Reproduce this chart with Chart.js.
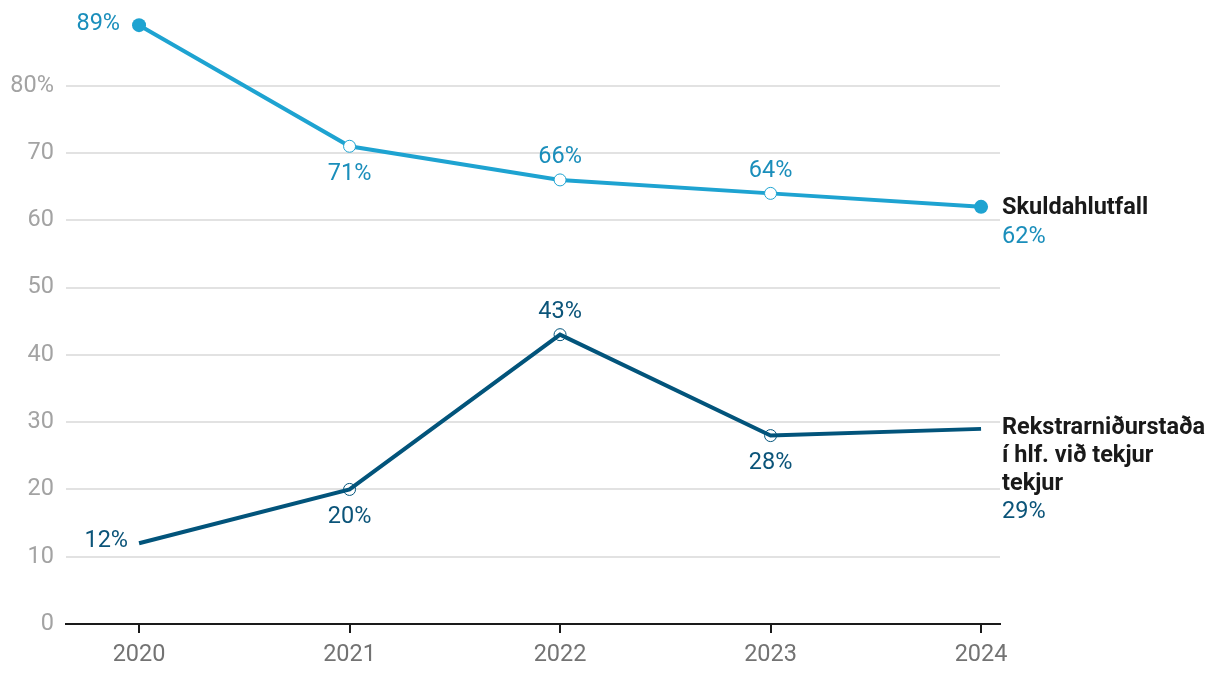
<!DOCTYPE html>
<html>
<head>
<meta charset="utf-8">
<script src="https://cdn.jsdelivr.net/npm/chart.js@4"></script>
<style>
html,body{margin:0;padding:0;background:#fff;}
#wrap{width:1220px;height:684px;position:relative;}
</style>
</head>
<body>
<div id="wrap"><canvas id="c" width="1220" height="684"></canvas></div>
<script>
const years = [2020, 2021, 2022, 2023, 2024];
const skuldahlutfall = [89, 71, 66, 64, 62];
const rekstrar = [12, 20, 43, 28, 29];
const yTicks = [0, 10, 20, 30, 40, 50, 60, 70, 80];
const seriesNames = ["Skuldahlutfall", ["Rekstrarniðurstaða", "í hlf. við tekjur", "tekjur"]];

const LIGHT = '#1ea3d1';
const LIGHT_TXT = '#1a8ebb';
const DARK = '#02547b';
const DARK_TXT = '#0b5479';
const FONT = 'Roboto, "Noto Sans", sans-serif';

// label placement: [dx, dy, align]
const lightPos = [[-19, -1, 'right'], [0, 28, 'center'], [0, -23, 'center'], [0, -22, 'center'], [21, 30, 'left']];
const darkPos  = [[-11, -2, 'right'], [0, 28, 'center'], [0, -23, 'center'], [0, 28, 'center'], [21, 83, 'left']];

const labelPlugin = {
  id: 'labels',
  afterDatasetsDraw(chart) {
    const ctx = chart.ctx;
    ctx.save();
    ctx.textBaseline = 'middle';
    const sets = [[0, lightPos, LIGHT_TXT], [1, darkPos, DARK_TXT]];
    sets.forEach(([di, pos, col]) => {
      const meta = chart.getDatasetMeta(di);
      meta.data.forEach((pt, i) => {
        const p = pos[i];
        ctx.font = '23.5px ' + FONT;
        ctx.fillStyle = col;
        ctx.textAlign = p[2];
        ctx.fillText(chart.data.datasets[di].data[i].y + '%', pt.x + p[0], pt.y + p[1]);
      });
    });
    // series names
    ctx.font = 'bold 23.5px ' + FONT;
    ctx.fillStyle = '#1a1a1a';
    ctx.textAlign = 'left';
    const m0 = chart.getDatasetMeta(0).data[4];
    ctx.fillText(seriesNames[0], m0.x + 21, m0.y + 1);
    const m1 = chart.getDatasetMeta(1).data[4];
    seriesNames[1].forEach((t, k) => ctx.fillText(t, m1.x + 21, m1.y - 1 + k * 28));
    ctx.restore();
  }
};

new Chart(document.getElementById('c'), {
  type: 'line',
  data: {
    datasets: [
      {
        data: years.map((y, i) => ({x: y, y: skuldahlutfall[i]})),
        borderColor: LIGHT,
        borderWidth: 4,
        pointRadius: [7, 6, 6, 6, 7],
        pointBorderWidth: [0, 1, 1, 1, 0],
        pointBackgroundColor: [LIGHT, '#fff', '#fff', '#fff', LIGHT],
        pointBorderColor: LIGHT,
        tension: 0,
        clip: false,
        order: 1
      },
      {
        data: years.map((y, i) => ({x: y, y: rekstrar[i]})),
        borderColor: DARK,
        borderWidth: 4,
        pointRadius: [0, 6, 6, 6, 0],
        pointBorderWidth: 1,
        pointBackgroundColor: 'rgba(255,255,255,0)',
        pointBorderColor: DARK,
        tension: 0,
        clip: false,
        order: 0
      }
    ]
  },
  options: {
    responsive: false,
    animation: false,
    devicePixelRatio: 1,
    layout: {padding: {left: 0, right: 220, top: 0, bottom: 0}},
    plugins: {legend: {display: false}, tooltip: {enabled: false}},
    scales: {
      x: {
        type: 'linear',
        min: 2019.653,
        max: 2024.09,
        afterBuildTicks(s) { s.ticks = years.map(v => ({value: v})); },
        afterFit(s) { s.height = 60; s.paddingLeft = 0; s.paddingRight = 0; },
        grid: {drawOnChartArea: false, drawTicks: true, tickLength: 9, color: '#1a1a1a', lineWidth: 2},
        border: {display: true, color: '#1a1a1a', width: 2},
        ticks: {color: '#737373', font: {family: FONT, size: 23.5}, padding: 8, callback: v => String(v)}
      },
      y: {
        min: 0,
        max: 91.7,
        afterBuildTicks(s) { s.ticks = yTicks.map(v => ({value: v})); },
        afterFit(s) { s.width = 66; s.paddingTop = 0; s.paddingBottom = 0; },
        grid: {color: '#e2e2e2', lineWidth: 2, drawTicks: false},
        border: {display: false},
        ticks: {color: '#a3a3a3', font: {family: FONT, size: 23.5}, padding: 12,
          callback: v => v === 80 ? '80%' : String(v)}
      }
    }
  },
  plugins: [labelPlugin]
});
</script>
</body>
</html>
